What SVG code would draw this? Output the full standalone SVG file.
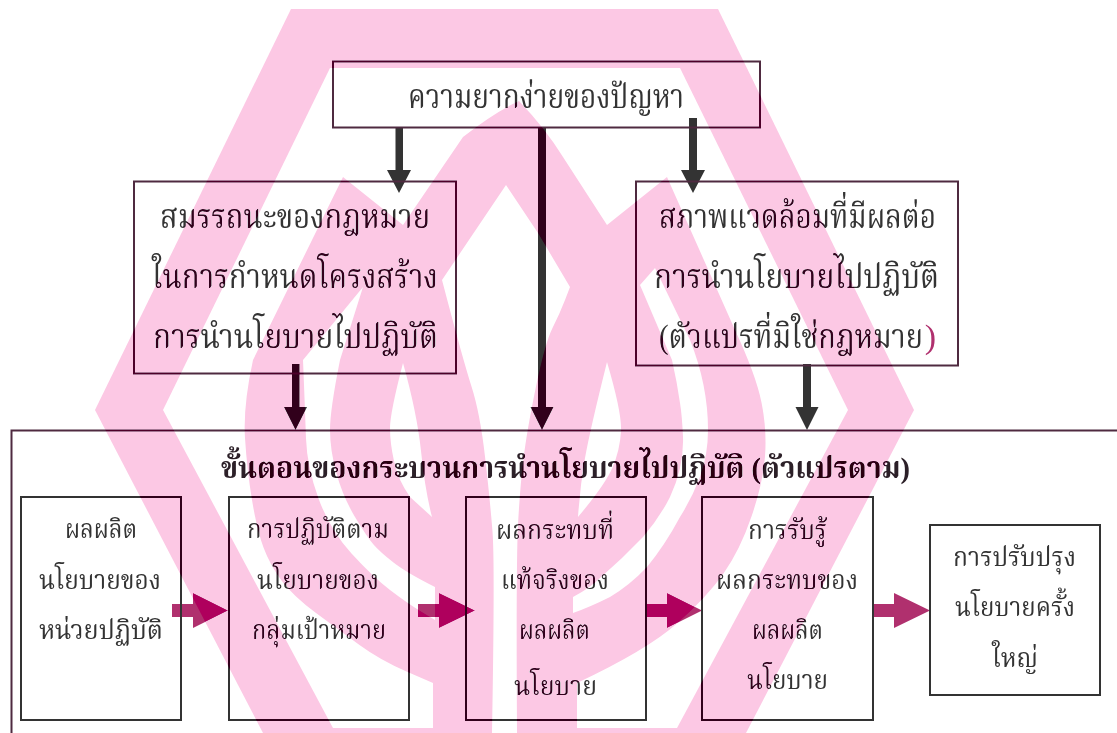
<svg xmlns="http://www.w3.org/2000/svg" xmlns:xlink="http://www.w3.org/1999/xlink" width="1117" height="733" viewBox="0 0 1117 733">
<style>
.box{fill:none;stroke:#4f2a40;stroke-width:2}
.inner{fill:none;stroke:#333;stroke-width:2}
text{font-family:"Liberation Serif","Noto Serif Thai","Noto Sans Thai",serif;font-size:34px;fill:#333;text-anchor:middle}
.s{font-size:27px}
.t{font-size:30px;font-weight:bold;fill:#2c2028}
.dk{fill:#333}
.mg{fill:#b0306e}
.burn{mix-blend-mode:color-burn}
.dark{mix-blend-mode:darken}
.p{fill:#fcc8e4}
.w{fill:#fff}
</style>
<defs>
<g id="wm">
<path class="p" d="M291 9H718L914 410L746 733H263L95 410Z"/>
<path class="w" d="M330 68H680L848 410L677 728H333L163 410Z"/>
<path class="p" d="M519 101Q545 128 563 157L607 225L667 177L735 330Q756 375 761.500 402.500Q767 430 765 456.500Q763 483 751.500 516.500Q740 550 723.500 573.500Q707 597 677 623.500Q647 650 577 683V733H433V683L406.500 671.500Q380 660 359.500 645Q339 630 316 613Q293 596 281.500 580.500Q270 565 263.500 547.500Q257 530 252 500Q247 470 245 438Q243 406 253 360L343 177L403 225L463 137Q495 112 519 101Z"/>
<path class="w" d="M506 185L538 233L570 287L565 300Q560 313 552.500 328Q545 343 536 386.500Q527 430 523.500 458.500Q520 487 518 525Q516 563 517 733H492Q495 563 492.500 531.500Q490 500 485 456.500Q480 413 471.500 386.500Q463 360 442 280Z"/>
<path class="w" d="M403 363Q417 413 421 451Q425 490 432 517L410 497Q398 480 394 461Q390 443 390 428Q390 413 403 363Z"/>
<path class="w" d="M607 362Q622 413 621 431Q620 450 612.500 467.500Q605 485 578 517Q580 487 585 458Q590 430 607 362Z"/>
<path class="w" d="M363 287L340 360Q330 410 330 430Q330 450 336.500 473.500Q343 497 355 517Q367 537 373.500 544.500Q380 552 393.500 562.500Q407 573 435 587V620L421 611.500Q407 603 390 590Q373 577 351.500 553.500Q330 530 318.500 498.500Q307 467 306 438.500Q305 410 304 385L303 360Z"/>
<path class="w" d="M640 285L655 268L690 340Q708 385 708 430Q708 455 700 477Q692 498 680 517Q665 545 647 567Q630 585 610 597Q590 607 573 613V597Q590 588 600 578Q623 558 643 537Q660 517 670 497Q684 467 683 437Q682 415 680 403Q677 382 672 360Z"/>
</g>
</defs>
<rect width="1117" height="733" fill="#fff"/>
<g id="connectors">
<path class="dk" d="M395.500 127H403V170H411L399 193L387 170H395.500Z"/>
<path class="dk" d="M538 127H546V407H553.500L542 430L530.500 407H538Z"/>
<path class="dk" d="M689 118H697V170H705L693 193L681 170H689Z"/>
<path class="dk" d="M292 364H299.500V407H307L295.500 430L284 407H292Z"/>
<path class="dk" d="M803 364H811V407H818.500L807 430L795.500 407H803Z"/>
<path class="mg" d="M172 604H193V593L228 610.500L193 628V617H172Z"/>
<path class="mg" d="M418 604H439V593L475 610.500L439 628V617H418Z"/>
<path class="mg" d="M646 604H667V593L702 610.500L667 628V617H646Z"/>
<path class="mg" d="M873 604H894V593L930 610.500L894 628V617H873Z"/>
</g>
<g id="n-problem"><rect class="box" x="333" y="61.500" width="427" height="66"/>
<text x="546" y="108" textLength="276" lengthAdjust="spacingAndGlyphs">ความยากง่ายของปัญหา</text></g>
<g id="n-law"><rect class="box" x="134" y="181.500" width="322" height="192"/>
<text x="295" y="228" textLength="270" lengthAdjust="spacingAndGlyphs">สมรรถนะของกฎหมาย</text>
<text x="295" y="288" textLength="286" lengthAdjust="spacingAndGlyphs">ในการกำหนดโครงสร้าง</text>
<text x="295.500" y="348" textLength="285" lengthAdjust="spacingAndGlyphs">การนำนโยบายไปปฏิบัติ</text></g>
<g id="n-env"><rect class="box" x="636" y="181.500" width="322" height="184"/>
<text x="797.500" y="228" textLength="277" lengthAdjust="spacingAndGlyphs">สภาพแวดล้อมที่มีผลต่อ</text>
<text x="796.500" y="288" textLength="285" lengthAdjust="spacingAndGlyphs">การนำนโยบายไปปฏิบัติ</text>
<text x="791" y="348" textLength="264" lengthAdjust="spacingAndGlyphs">(ตัวแปรที่มิใช่กฎหมาย</text>
<text x="930.500" y="348" style="fill:#b0306e">)</text></g>
<g id="n-process"><path class="box" d="M1117 430.500H11.500V733"/>
<text class="t" x="565.500" y="478" textLength="689" lengthAdjust="spacingAndGlyphs">ขั้นตอนของกระบวนการนำนโยบายไปปฏิบัติ (ตัวแปรตาม)</text></g>
<g id="n-output"><rect class="inner" x="21" y="497" width="160" height="223"/>
<text class="s" x="101" y="538" textLength="72" lengthAdjust="spacingAndGlyphs">ผลผลิต</text>
<text class="s" x="100" y="589" textLength="122" lengthAdjust="spacingAndGlyphs">นโยบายของ</text>
<text class="s" x="101" y="639" textLength="124" lengthAdjust="spacingAndGlyphs">หน่วยปฏิบัติ</text></g>
<g id="n-comply"><rect class="inner" x="229" y="497" width="180" height="223"/>
<text class="s" x="318" y="538" textLength="142" lengthAdjust="spacingAndGlyphs">การปฏิบัติตาม</text>
<text class="s" x="318" y="589" textLength="122" lengthAdjust="spacingAndGlyphs">นโยบายของ</text>
<text class="s" x="319" y="639" textLength="134" lengthAdjust="spacingAndGlyphs">กลุ่มเป้าหมาย</text></g>
<g id="n-impact"><rect class="inner" x="466" y="497" width="180" height="223"/>
<text class="s" x="555" y="539" textLength="118" lengthAdjust="spacingAndGlyphs">ผลกระทบที่</text>
<text class="s" x="555" y="589" textLength="108" lengthAdjust="spacingAndGlyphs">แท้จริงของ</text>
<text class="s" x="554.500" y="639" textLength="71" lengthAdjust="spacingAndGlyphs">ผลผลิต</text>
<text class="s" x="555.500" y="695" textLength="83" lengthAdjust="spacingAndGlyphs">นโยบาย</text></g>
<g id="n-perceive"><rect class="inner" x="702" y="497" width="171" height="223"/>
<text class="s" x="787.500" y="539" textLength="79" lengthAdjust="spacingAndGlyphs">การรับรู้</text>
<text class="s" x="787" y="589" textLength="142" lengthAdjust="spacingAndGlyphs">ผลกระทบของ</text>
<text class="s" x="787.500" y="639" textLength="71" lengthAdjust="spacingAndGlyphs">ผลผลิต</text>
<text class="s" x="787.500" y="689" textLength="81" lengthAdjust="spacingAndGlyphs">นโยบาย</text></g>
<g id="n-revise"><rect class="inner" x="930" y="525" width="170" height="170"/>
<text class="s" x="1014.500" y="566" textLength="123" lengthAdjust="spacingAndGlyphs">การปรับปรุง</text>
<text class="s" x="1015" y="616" textLength="120" lengthAdjust="spacingAndGlyphs">นโยบายครั้ง</text>
<text class="s" x="1015" y="667" textLength="46" lengthAdjust="spacingAndGlyphs">ใหญ่</text></g>
<use xlink:href="#wm" href="#wm" class="burn"/>
<use xlink:href="#wm" href="#wm" class="dark"/>
</svg>
